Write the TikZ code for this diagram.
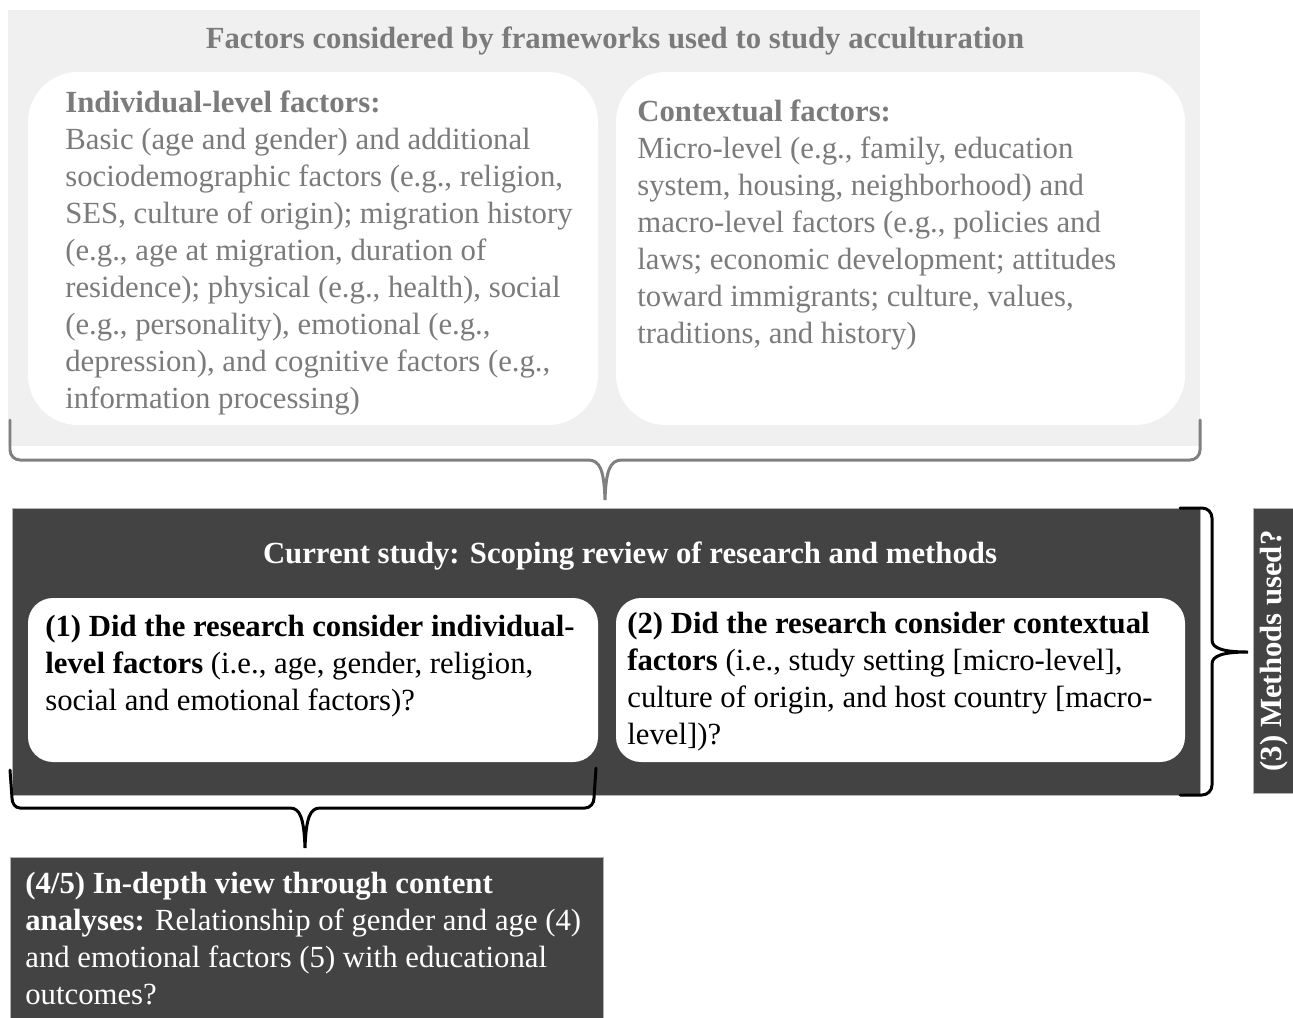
\documentclass[tikz,border=0pt]{standalone}
\usepackage{fontspec}
\setmainfont{Liberation Serif}
\definecolor{panelgray}{HTML}{F0F0F0}
\definecolor{textgray}{HTML}{7B7B7B}
\definecolor{darkbox}{HTML}{434343}
\begin{document}
\begin{tikzpicture}[x=0.02cm, y=-0.02cm,
	txt/.style={anchor=base west, inner sep=0pt, align=left, font=\fontsize{17.5}{21}\selectfont},
	ttl/.style={anchor=base, inner sep=0pt, font=\fontsize{17.5}{21}\selectfont\bfseries},
	bracegray/.style={draw=gray, line width=1.7pt, line cap=round},
	braceblack/.style={draw=black, line width=1.7pt, line cap=round}]
		\useasboundingbox (0,0) rectangle (1293,1017);
		
		\fill [panelgray] (8,10) rectangle (1200,446);
		\fill [white, rounded corners=1cm] (28,72) rectangle (598,425);
		\fill [white, rounded corners=1cm] (616,72) rectangle (1185,425);
		
		\filldraw [fill=darkbox, draw=gray!60] (12,508) rectangle (1200,795);
		\fill [white, rounded corners=0.5cm] (28,598) rectangle (598,762);
		\fill [white, rounded corners=0.5cm] (616,598) rectangle (1185,762);
		
		\filldraw [fill=darkbox, draw=gray!60] (1253,508) rectangle (1293,793);
		\filldraw [fill=darkbox, draw=gray!60] (10,857) rectangle (603,1020);
		
		\node [ttl, text=textgray] (topTitle) at (615,49) {Factors considered by frameworks used to study acculturation};
		\node [txt, text=textgray] (indiv) at (65,408) {\textbf{Individual-level factors:}\\
			Basic (age and gender) and additional\\
			sociodemographic factors (e.g., religion,\\
			SES, culture of origin); migration history\\
			(e.g., age at migration, duration of\\
			residence); physical (e.g., health), social\\
			(e.g., personality), emotional (e.g.,\\
			depression), and cognitive factors (e.g.,\\
			information processing)};
		\node [txt, text=textgray] (context) at (637,343) {\textbf{Contextual factors:}\\
			Micro-level (e.g., family, education\\
			system, housing, neighborhood) and\\
			macro-level factors (e.g., policies and\\
			laws; economic development; attitudes\\
			toward immigrants; culture, values,\\
			traditions, and history)};
		
		\node [ttl, text=white] (studyTitle) at (630,563) {Current study: Scoping review of research and methods};
		\node [txt] (q1) at (45,710) {\textbf{(1) Did the research consider individual-}\\
			\textbf{level factors} (i.e., age, gender, religion,\\
			social and emotional factors)?};
		\node [txt] (q2) at (627,744) {\textbf{(2) Did the research consider contextual}\\
			\textbf{factors} (i.e., study setting [micro-level],\\
			culture of origin, and host country [macro-\\
			level])?};
		\node [ttl, anchor=center, text=white, rotate=90] (q3) at (1274,651) {(3) Methods used?};
		\node [txt, text=white] (q45) at (25,1004) {\textbf{(4/5) In-depth view through content}\\
			\textbf{analyses:} Relationship of gender and age (4)\\
			and emotional factors (5) with educational\\
			outcomes?};
		
		\draw [bracegray] (10,420) -- (10,450) to[out=-90, in=180] (20,460) -- (588,460)
			.. controls (600,460) and (604,470) .. (605,500)
			.. controls (606,470) and (610,460) .. (622,460) -- (1190,460) to[out=0, in=-90] (1200,450) -- (1200,420);
		\draw [braceblack] (1180,508) -- (1202,508) to[out=0, in=90] (1212,518) -- (1212,640)
			.. controls (1212,648) and (1222,652) .. (1248,652)
			.. controls (1222,652) and (1212,656) .. (1212,664) -- (1212,785) to[out=-90, in=0] (1202,795) -- (1180,795);
		\draw [braceblack] (10,770) -- (12,798) to[out=-90, in=180] (20,808) -- (290,808)
			.. controls (300,808) and (304,818) .. (305,848)
			.. controls (306,818) and (310,808) .. (320,808) -- (585,808) to[out=0, in=-90] (594,798) -- (596,768);
\end{tikzpicture}
\end{document}
